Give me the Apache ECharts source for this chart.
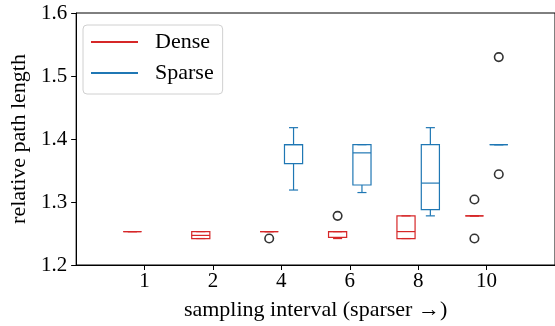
<!DOCTYPE html>
<html>
<head>
<meta charset="utf-8">
<script src="https://cdn.jsdelivr.net/npm/echarts@6/dist/echarts.min.js"></script>
<style>html,body{margin:0;padding:0;background:#fff}#c{width:555px;height:326px}</style>
</head>
<body>
<div id="c"></div>
<script>
// ---- data ----
const categories = ['1', '2', '4', '6', '8', '10'];
// box stats per category: [min, q1, median, q3, max] (null = no data)
const denseStats = [
  [1.253, 1.253, 1.253, 1.253, 1.253],
  [1.242, 1.242, 1.247, 1.253, 1.253],
  [1.253, 1.253, 1.253, 1.253, 1.253],
  [1.242, 1.244, 1.253, 1.253, 1.253],
  [1.242, 1.242, 1.253, 1.278, 1.278],
  [1.278, 1.278, 1.278, 1.278, 1.278]
];
const sparseStats = [
  null,
  null,
  [1.319, 1.361, 1.391, 1.391, 1.418],
  [1.315, 1.327, 1.378, 1.391, 1.391],
  [1.278, 1.288, 1.330, 1.391, 1.418],
  [1.391, 1.391, 1.391, 1.391, 1.391]
];
// outliers: [category index, value]
const denseOutliers = [[2, 1.242], [3, 1.278], [5, 1.304], [5, 1.242]];
const sparseOutliers = [[5, 1.530], [5, 1.344]];
const yTicks = [1.2, 1.3, 1.4, 1.5, 1.6];

// ---- styling / layout ----
const RED = '#d62728', BLUE = '#1f77b4';
const OFFSET = 0.178, BOXW = 0.265;
const FONT = '"Liberation Serif", "Times New Roman", serif';

function boxData(stats, off) {
  const out = [];
  stats.forEach((s, i) => { if (s) out.push([i + 1 + off].concat(s)); });
  return out;
}
function outlierData(list, off) {
  return list.map(o => [o[0] + 1 + off, o[1]]);
}
function makeRender(color) {
  return function (params, api) {
    const xv = api.value(0);
    const cx = api.coord([xv, 1.4])[0];
    const w = api.size([BOXW, 0])[0];
    const y = k => api.coord([xv, api.value(k)])[1];
    const yMin = y(1), yQ1 = y(2), yMed = y(3), yQ3 = y(4), yMax = y(5);
    const st = { stroke: color, lineWidth: 1.2, fill: null };
    const L = (x1, y1, x2, y2) => ({ type: 'line', shape: { x1, y1, x2, y2 }, style: st });
    return {
      type: 'group',
      children: [
        { type: 'rect', shape: { x: cx - w / 2, y: yQ3, width: w, height: yQ1 - yQ3 }, style: st },
        L(cx - w / 2, yMed, cx + w / 2, yMed),
        L(cx, yQ3, cx, yMax),
        L(cx, yQ1, cx, yMin),
        L(cx - w / 4, yMax, cx + w / 4, yMax),
        L(cx - w / 4, yMin, cx + w / 4, yMin)
      ]
    };
  };
}

const chart = echarts.init(document.getElementById('c'), null, { renderer: 'canvas' });
chart.setOption({
  animation: false,
  backgroundColor: '#fff',
  textStyle: { fontFamily: FONT },
  grid: { left: 72, top: 13, right: -4, bottom: 60, show: true, borderColor: '#000', borderWidth: 1, backgroundColor: 'transparent' },
  legend: {
    data: ['Dense', 'Sparse'],
    orient: 'vertical',
    left: 83, top: 25,
    itemWidth: 47, itemHeight: 2, icon: 'rect',
    itemGap: 9,
    padding: [6, 9, 10, 8],
    borderColor: '#d0d0d0', borderWidth: 1, borderRadius: 4,
    backgroundColor: 'rgba(255,255,255,0.85)',
    textStyle: { fontFamily: FONT, fontSize: 22, color: '#000', padding: [0, 0, 0, 12] }
  },
  xAxis: {
    type: 'value', min: 0, max: 7, interval: 1,
    name: 'sampling interval (sparser \u2192)', nameLocation: 'middle', nameGap: 34,
    nameTextStyle: { fontFamily: FONT, fontSize: 22, color: '#000' },
    axisLine: { show: true, lineStyle: { color: '#000', width: 1 } },
    axisTick: { show: true, length: 5, lineStyle: { color: '#000' }, customValues: [1, 2, 3, 4, 5, 6] },
    axisLabel: { fontFamily: FONT, fontSize: 21, color: '#000', margin: 6,
      customValues: [1, 2, 3, 4, 5, 6],
      formatter: v => categories[Math.round(v) - 1] || '' },
    splitLine: { show: false }
  },
  yAxis: {
    type: 'value', min: 1.2, max: 1.6, interval: 0.1,
    name: 'relative path length', nameLocation: 'middle', nameGap: 37,
    nameTextStyle: { fontFamily: FONT, fontSize: 22, color: '#000' },
    axisLine: { show: true, lineStyle: { color: '#000', width: 1 } },
    axisTick: { show: true, length: 5, lineStyle: { color: '#000' } },
    axisLabel: { fontFamily: FONT, fontSize: 21, color: '#000', margin: 9,
      customValues: yTicks, formatter: v => v.toFixed(1) },
    splitLine: { show: false }
  },
  series: [
    { name: 'Dense', type: 'custom', itemStyle: { color: RED }, renderItem: makeRender(RED),
      encode: { x: 0, y: [1, 2, 3, 4, 5] }, data: boxData(denseStats, -OFFSET), clip: false },
    { name: 'Sparse', type: 'custom', itemStyle: { color: BLUE }, renderItem: makeRender(BLUE),
      encode: { x: 0, y: [1, 2, 3, 4, 5] }, data: boxData(sparseStats, OFFSET), clip: false },
    { name: 'DenseOut', type: 'scatter', symbol: 'circle', symbolSize: 8.5,
      itemStyle: { color: 'transparent', borderColor: '#000', borderWidth: 1.6 },
      data: outlierData(denseOutliers, -OFFSET) },
    { name: 'SparseOut', type: 'scatter', symbol: 'circle', symbolSize: 8.5,
      itemStyle: { color: 'transparent', borderColor: '#000', borderWidth: 1.6 },
      data: outlierData(sparseOutliers, OFFSET) }
  ]
});
</script>
</body>
</html>
